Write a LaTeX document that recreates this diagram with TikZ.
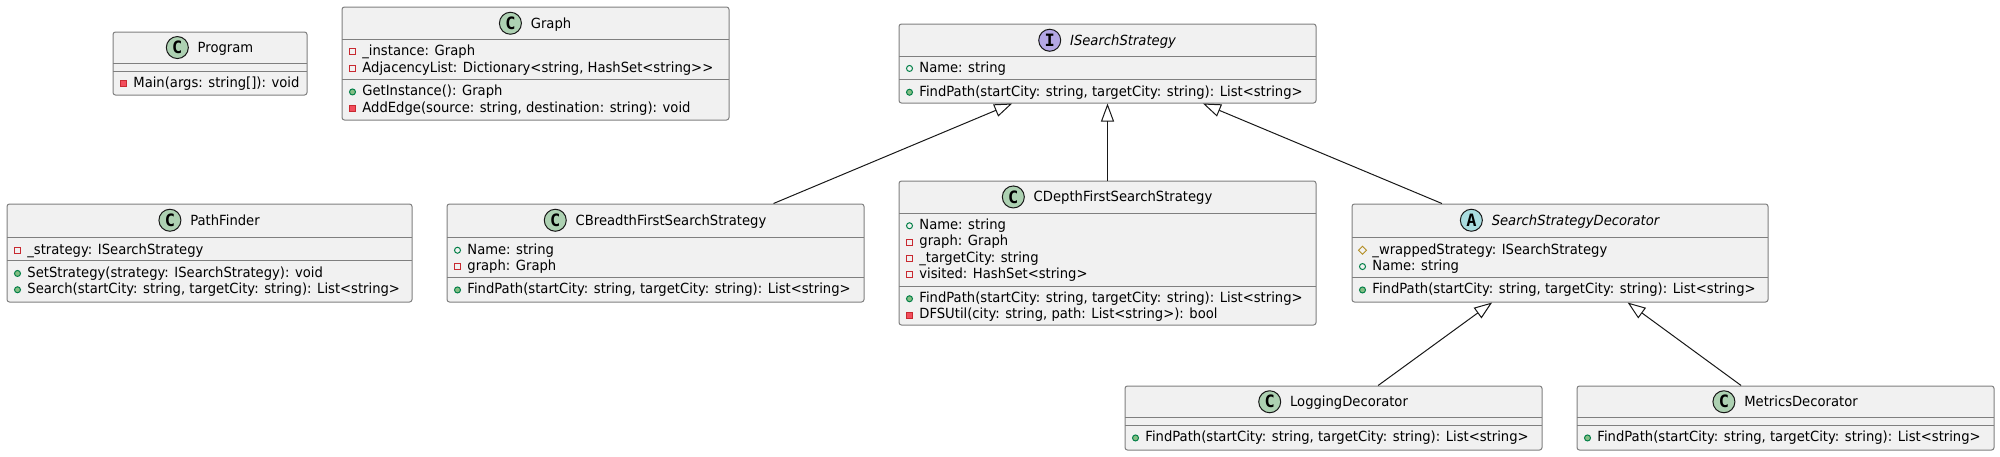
\documentclass[tikz,border=0pt]{standalone}
\usepackage{fontspec}
\setmainfont{DejaVu Sans}[FakeStretch=0.94]
\setmonofont{DejaVu Sans Mono}
\usetikzlibrary{shapes.geometric}
\usetikzlibrary{arrows.meta}
\definecolor{boxfill}{HTML}{F1F1F1}
\definecolor{boxline}{HTML}{7F7F7F}
\definecolor{edgeline}{HTML}{181818}
\definecolor{clsfill}{HTML}{ADD1B2}
\definecolor{ifcfill}{HTML}{B4A7E5}
\definecolor{absfill}{HTML}{A9DCDF}
\definecolor{privline}{HTML}{C82930}
\definecolor{privfill}{HTML}{F24D5C}
\definecolor{publine}{HTML}{038048}
\definecolor{pubfill}{HTML}{84BE84}
\definecolor{protline}{HTML}{B38D22}

\begin{document}
\begin{tikzpicture}[x=0.5pt, y=-0.5pt,
	classbox/.style={draw=boxline, fill=boxfill, line width=0.5pt, rounded corners=1.25pt, inner sep=0pt},
	divider/.style={draw=boxline, line width=0.5pt},
	member/.style={font=\fontsize{7}{8}\selectfont, inner sep=0pt, anchor=base west, text height=5.25pt, text depth=1.5pt},
	vicon/.style={inner sep=0pt, minimum size=3pt, line width=0.5pt, anchor=center, label distance=4.75pt, text height=0pt, text depth=0pt},
	pubf/.style={member, label={[vicon, circle, draw=publine]left:{}}},
	pubm/.style={member, label={[vicon, circle, draw=publine, fill=pubfill]left:{}}},
	privf/.style={member, label={[vicon, draw=privline]left:{}}},
	privm/.style={member, label={[vicon, draw=privline, fill=privfill]left:{}}},
	protf/.style={member, label={[vicon, diamond, draw=protline, minimum size=4.2pt]left:{}}},
	hdr/.style={font=\fontsize{7}{8}\selectfont, inner sep=0pt, anchor=base, text height=5.25pt, text depth=1.5pt},
	cicon/.style={circle, draw=edgeline, line width=0.5pt, minimum size=11pt, inner sep=0pt, anchor=center, label distance=10pt, yshift=0.5pt, text height=, text depth=, font=\ttfamily\bfseries\fontsize{8.5}{9}\selectfont},
	clsname/.style={hdr, label={[cicon, fill=clsfill]left:C}},
	ifcname/.style={hdr, font=\fontsize{7}{8}\selectfont\itshape, label={[cicon, fill=ifcfill]left:I}},
	absname/.style={hdr, font=\fontsize{7}{8}\selectfont\itshape, label={[cicon, fill=absfill]left:A}},
	extends/.style={draw=edgeline, line width=0.5pt, -{Triangle[open, length=9pt, width=6.5pt]}}]
	\useasboundingbox (0,0) rectangle (2000,456);

	\node[classbox, minimum width=97pt, minimum height=31.5pt] (program) at (210,63.5) {};
	\node[classbox, minimum width=193.5pt, minimum height=56.5pt] (graph) at (535.5,63.5) {};
	\node[classbox, minimum width=208.5pt, minimum height=39.5pt] (iss) at (1107.5,63.5) {};
	\node[classbox, minimum width=202.5pt, minimum height=49pt] (pathfinder) at (209.5,253) {};
	\node[classbox, minimum width=208.5pt, minimum height=49pt] (bfs) at (655.5,253) {};
	\node[classbox, minimum width=208.5pt, minimum height=72pt] (dfs) at (1107.5,253) {};
	\node[classbox, minimum width=208pt, minimum height=49pt] (decorator) at (1560,253) {};
	\node[classbox, minimum width=208.5pt, minimum height=32pt] (logging) at (1333.5,418) {};
	\node[classbox, minimum width=208.5pt, minimum height=32pt] (metrics) at (1785.5,418) {};

	\draw[divider] (113,63)--(307,63) (113,71)--(307,71);
	\draw[divider] (342,39)--(729,39) (342,79)--(729,79);
	\draw[divider] (899,56)--(1316,56) (899,79)--(1316,79);
	\draw[divider] (7,237)--(412,237) (7,260)--(412,260);
	\draw[divider] (447,237)--(864,237) (447,277)--(864,277);
	\draw[divider] (899,213)--(1316,213) (899,286)--(1316,286);
	\draw[divider] (1352,237)--(1768,237) (1352,277)--(1768,277);
	\draw[divider] (1125,417)--(1542,417) (1125,425)--(1542,425);
	\draw[divider] (1577,417)--(1994,417) (1577,425)--(1994,425);

	\node[clsname] (programN) at (225.5,52.3) {Program};
	\node[privm] (programMain) at (133,87.7) {Main(args: string[]): void};

	\node[clsname] (graphN) at (551,28) {Graph};
	\node[privf] (graphInstance) at (362,55.7) {\_instance: Graph};
	\node[privf] (graphAdj) at (362,72) {AdjacencyList: Dictionary<string, HashSet<string>{}>};
	\node[pubm] (graphGet) at (362,95.7) {GetInstance(): Graph};
	\node[privm] (graphAdd) at (362,112) {AddEdge(source: string, destination: string): void};

	\node[ifcname] (issN) at (1123,45) {ISearchStrategy};
	\node[pubf] (issName) at (919,72.2) {Name: string};
	\node[pubm] (issFind) at (919,96) {FindPath(startCity: string, targetCity: string): List<string>};

	\node[clsname] (pathfinderN) at (225,225) {PathFinder};
	\node[privf] (pathfinderStrategy) at (27,254) {\_strategy: ISearchStrategy};
	\node[pubm] (pathfinderSet) at (27,277.2) {SetStrategy(strategy: ISearchStrategy): void};
	\node[pubm] (pathfinderSearch) at (27,293.5) {Search(startCity: string, targetCity: string): List<string>};

	\node[clsname] (bfsN) at (671,225) {CBreadthFirstSearchStrategy};
	\node[pubf] (bfsName) at (467,254) {Name: string};
	\node[privf] (bfsGraph) at (467,270.3) {graph: Graph};
	\node[pubm] (bfsFind) at (467,293.7) {FindPath(startCity: string, targetCity: string): List<string>};

	\node[clsname] (dfsN) at (1123,201.7) {CDepthFirstSearchStrategy};
	\node[pubf] (dfsName) at (919,229.5) {Name: string};
	\node[privf] (dfsGraph) at (919,245.8) {graph: Graph};
	\node[privf] (dfsTarget) at (919,262) {\_targetCity: string};
	\node[privf] (dfsVisited) at (919,278.3) {visited: HashSet<string>};
	\node[pubm] (dfsFind) at (919,302.5) {FindPath(startCity: string, targetCity: string): List<string>};
	\node[privm] (dfsUtil) at (919,318.8) {DFSUtil(city: string, path: List<string>): bool};

	\node[absname] (decoratorN) at (1575.5,225) {SearchStrategyDecorator};
	\node[protf] (decoratorWrapped) at (1372,254) {\_wrappedStrategy: ISearchStrategy};
	\node[pubf] (decoratorName) at (1372,270.3) {Name: string};
	\node[pubm] (decoratorFind) at (1372,293.7) {FindPath(startCity: string, targetCity: string): List<string>};

	\node[clsname] (loggingN) at (1349,406.5) {LoggingDecorator};
	\node[pubm] (loggingFind) at (1145,441.7) {FindPath(startCity: string, targetCity: string): List<string>};

	\node[clsname] (metricsN) at (1801,406.5) {MetricsDecorator};
	\node[pubm] (metricsFind) at (1597,441.7) {FindPath(startCity: string, targetCity: string): List<string>};

	\draw[extends] (bfs) -- (iss);
	\draw[extends] (dfs) -- (iss);
	\draw[extends] (decorator) -- (iss);
	\draw[extends] (logging) -- (decorator);
	\draw[extends] (metrics) -- (decorator);
\end{tikzpicture}
\end{document}
